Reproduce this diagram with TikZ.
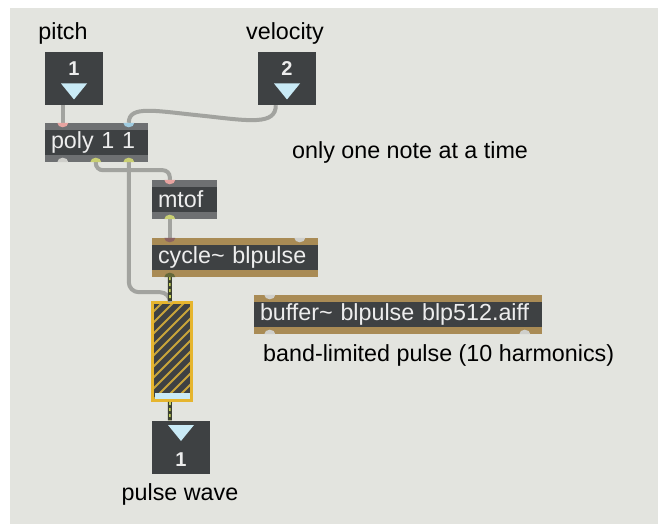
\documentclass[tikz,border=0pt]{standalone}
\usepackage{fontspec}
\setmainfont{Liberation Sans}
\usetikzlibrary{calc}
\definecolor{patchbg}{HTML}{E3E4DF}
\definecolor{boxdark}{HTML}{3E4143}
\definecolor{polybar}{HTML}{6E7072}
\definecolor{sigbar}{HTML}{A98B55}
\definecolor{cablegray}{HTML}{A2A39F}
\definecolor{sigdark}{HTML}{3B3F2E}
\definecolor{siglime}{HTML}{C6D25A}
\definecolor{meteryellow}{HTML}{E6B52E}
\definecolor{hatchyellow}{HTML}{C9A53B}
\definecolor{boxtext}{HTML}{EDEDED}
\definecolor{triblue}{HTML}{C9EAF6}
\definecolor{portpink}{HTML}{E7A3A0}
\definecolor{portblue}{HTML}{9FCBE0}
\definecolor{portlime}{HTML}{C9CF72}
\definecolor{portgray}{HTML}{CFCFCB}

\tikzset{
  obj/.style={rectangle, fill=boxdark, minimum height=39pt, inner xsep=6pt, inner ysep=0pt,
    text width=#1, align=left, text=boxtext, font=\fontsize{23.3}{27}\selectfont},
  bars/.style={path picture={
    \fill[#1] (path picture bounding box.north west) rectangle ($(path picture bounding box.north east)+(0,7)$);
    \fill[#1] (path picture bounding box.south west) rectangle ($(path picture bounding box.south east)+(0,-7)$);}},
  numbox/.style={rectangle, fill=boxdark, minimum width=58pt, minimum height=53pt, inner sep=0pt},
  numval/.style={text=boxtext, font=\fontsize{20}{22}\selectfont\bfseries, inner sep=0pt},
  label/.style={font=\fontsize{23.3}{27}\selectfont, inner sep=0pt},
  cable/.style={draw=cablegray, line width=4pt},
  sigcable/.style={draw=sigdark, line width=4pt,
    postaction={draw=siglime, line width=1.6pt, dash pattern=on 3pt off 3pt}},
}
% ports: node, x offset from left edge, colour
\newcommand{\inlet}[3]{\fill[#3] ($(#1.north west)+(#2-5.5,0)$) arc[start angle=180, end angle=0, x radius=5.5, y radius=4.5] -- cycle;}
\newcommand{\outlet}[3]{\fill[#3] ($(#1.south west)+(#2-5.5,0)$) arc[start angle=180, end angle=360, x radius=5.5, y radius=4.5] -- cycle;}
\newcommand{\downtri}[2]{\fill[triblue] ($(#1.center)+(-13,#2)$) -- ++(26,0) -- ++(-13,16) -- cycle;}

\begin{document}
\begin{tikzpicture}[x=1pt, y=-1pt]
  \useasboundingbox (0,0) rectangle (658,524);
  \fill[white] (0,0) rectangle (658,524);
  \fill[patchbg] (10,8) rectangle (658,524);

  % Nodes
  \node[label] (pitchlbl) at (63,33) {pitch};
  \node[label] (vellbl) at (285,33) {velocity};
  \node[numbox] (pitchnum) at (74,78.5) {};
  \node[numbox] (velnum) at (287,78.5) {};
  \node[numval] (pitchval) at ($(pitchnum.center)+(0,-10)$) {1};
  \node[numval] (velval) at ($(velnum.center)+(0,-10)$) {2};
  \downtri{pitchnum}{5}
  \downtri{velnum}{5}

  \node[obj=91pt, bars=polybar] (poly) at (96.5,142.5) {poly 1 1};
  \node[label, anchor=west] (note) at (292,152) {only one note at a time};
  \node[obj=53pt, bars=polybar] (mtof) at (184.5,199.5) {mtof};
  \node[obj=154pt, bars=sigbar] (cycle) at (235,257.5) {cycle\textasciitilde{} blpulse};
  \node[obj=276pt, bars=sigbar] (buffer) at (398,314.5) {buffer\textasciitilde{} blpulse blp512.aiff};
  \node[label, anchor=west] (bandlbl) at (263,355) {band-limited pulse (10 harmonics)};

  \node[rectangle, draw=meteryellow, line width=3pt, fill=boxdark, minimum width=39pt, minimum height=98pt,
    inner sep=0pt, path picture={
      \foreach \k in {-110,-99,...,50}
        \draw[hatchyellow, line width=2pt] ($(path picture bounding box.south west)+(\k,0)$) -- ++(101,-101);
      \fill[triblue] ($(path picture bounding box.south west)+(2,-2)$)
        rectangle ($(path picture bounding box.south east)+(-2,-8)$);}] (meter) at (172,351.5) {};

  \node[numbox] (outnum) at (181,447) {};
  \downtri{outnum}{-22}
  \node[numval] (outval) at ($(outnum.center)+(0,13)$) {1};
  \node[label] (pulselbl) at (180,494) {pulse wave};

  % Connections
  \draw[cable] ($(pitchnum.south west)+(18,0)$) -- ($(poly.north west)+(18,0)$);
  \draw[cable] ($(velnum.south west)+(18,0)$) .. controls +(0,20) and (250,121) .. (205,116)
    .. controls (155,111) and ($(poly.north west)+(84,-18)$) .. ($(poly.north west)+(84,0)$);
  \draw[cable, rounded corners=7pt] ($(poly.south west)+(51,0)$) -- ++(0,8) -| ($(mtof.north west)+(18,0)$);
  \draw[cable, rounded corners=10pt] ($(poly.south west)+(84,0)$) -- ++(0,130) -| ($(meter.north west)+(19,0)$);
  \draw[cable] ($(mtof.south west)+(18,0)$) -- ($(cycle.north west)+(18,0)$);
  \draw[sigcable] ($(cycle.south west)+(18,0)$) -- ($(meter.north west)+(19,0)$);
  \draw[sigcable] ($(meter.south west)+(19,0)$) -- ($(outnum.north west)+(18,0)$);

  % Ports
  \inlet{poly}{18}{portpink}
  \inlet{poly}{84}{portblue}
  \outlet{poly}{18}{portgray}
  \outlet{poly}{51}{portlime}
  \outlet{poly}{84}{portlime}
  \inlet{mtof}{18}{portpink}
  \outlet{mtof}{18}{portlime}
  \inlet{cycle}{18}{portpink!60!black}
  \inlet{cycle}{148}{portgray}
  \outlet{cycle}{18}{portlime!50!black}
  \inlet{buffer}{16}{portgray}
  \outlet{buffer}{16}{portgray}
  \outlet{buffer}{271}{portgray}
\end{tikzpicture}
\end{document}
